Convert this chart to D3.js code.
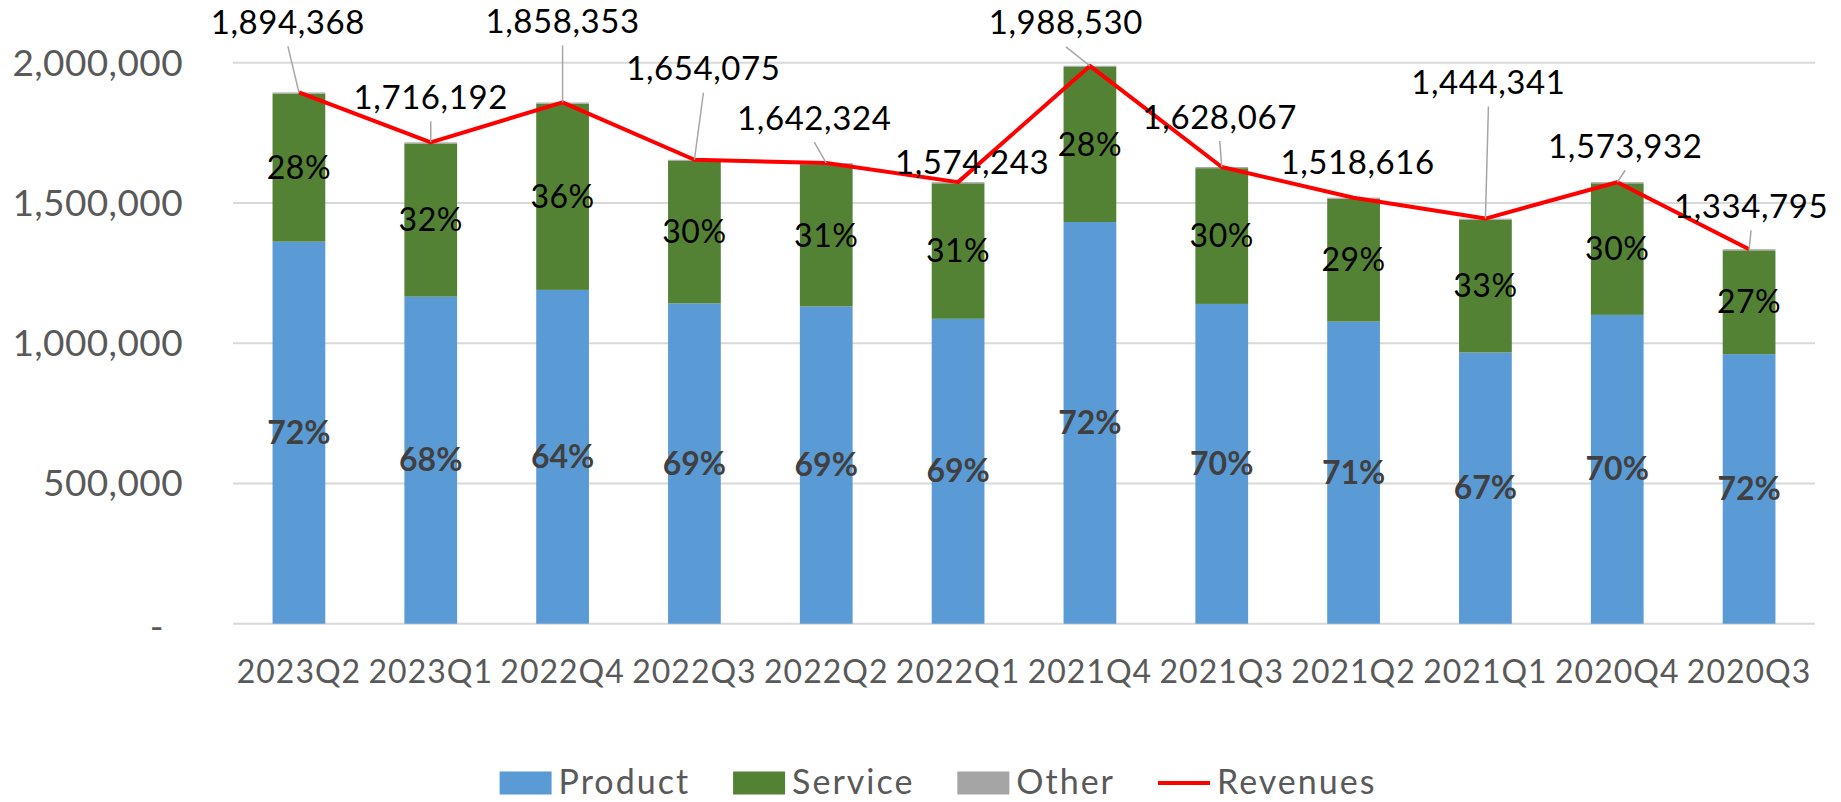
<!DOCTYPE html>
<html>
<head>
<meta charset="utf-8">
<script src="https://cdn.jsdelivr.net/npm/d3@7"></script>
<style>
  html, body { margin: 0; padding: 0; background: #fff; }
  svg { display: block; font-family: 'Lato', 'Open Sans', sans-serif; }
</style>
</head>
<body>
<svg id="chart" width="1841" height="802"></svg>
<script>
const quarters = ['2023Q2', '2023Q1', '2022Q4', '2022Q3', '2022Q2', '2022Q1',
  '2021Q4', '2021Q3', '2021Q2', '2021Q1', '2020Q4', '2020Q3'];
const revenues = [1894368, 1716192, 1858353, 1654075, 1642324, 1574243,
  1988530, 1628067, 1518616, 1444341, 1573932, 1334795];
const product = [1362000, 1166000, 1190000, 1142000, 1131000, 1087000,
  1432000, 1140000, 1077000, 967000, 1101000, 961000];
const service = [528000, 546000, 664000, 508000, 507000, 483000,
  553000, 484000, 438000, 473000, 469000, 370000];
const other = [4000, 4000, 4000, 4000, 4000, 4000, 4000, 4000, 4000, 4000, 4000, 4000];
const productPct = ['72%', '68%', '64%', '69%', '69%', '69%', '72%', '70%', '71%', '67%', '70%', '72%'];
const servicePct = ['28%', '32%', '36%', '30%', '31%', '31%', '28%', '30%', '29%', '33%', '30%', '27%'];
const yTicks = [0, 500000, 1000000, 1500000, 2000000];
// hand-placed callouts: label centre relative to the line point, and whether a leader is drawn
const calloutOffsets = [[-11, -70], [0, -45], [0, -81], [9, -91], [-12, -45], [14, -20],
  [-24, -43], [-2, -50], [4, -35], [3, -136], [8, -36], [2, -43]];
const showLeader = [true, true, true, true, true, false, true, true, false, true, true, true];

const COLORS = { product: '#5b9bd5', service: '#548235', other: '#a5a5a5', line: '#ff0000' };

const svg = d3.select('#chart');
const x = d3.scaleBand().domain(quarters).range([233, 1815]).paddingInner(0.6).paddingOuter(0.3);
const y = d3.scaleLinear().domain([0, 2000000]).range([623.7, 62.7]);
const cx = d => x(d) + x.bandwidth() / 2;

// gridlines
svg.append('g').selectAll('line').data(yTicks).enter().append('line')
  .attr('x1', 233).attr('x2', 1815)
  .attr('y1', d => y(d)).attr('y2', d => y(d))
  .attr('stroke', '#d9d9d9').attr('stroke-width', 2);

// y labels
svg.append('g').selectAll('text').data(yTicks).enter().append('text')
  .attr('x', d => d === 0 ? 164 : 183)
  .attr('y', d => y(d) + (d === 0 ? 3 : 0))
  .attr('dy', '0.35em')
  .attr('text-anchor', 'end')
  .attr('fill', '#595959').style('font-size', '37px').style('letter-spacing', '0.4px')
  .text(d => d === 0 ? '-' : d3.format(',')(d));

// stacked bars
const rows = quarters.map((q, i) => ({ q, i, product: product[i], service: service[i], other: other[i] }));
const stack = d3.stack().keys(['product', 'service', 'other'])(rows);
svg.append('g').selectAll('g').data(stack).enter().append('g')
  .attr('fill', s => COLORS[s.key])
  .selectAll('rect').data(s => s).enter().append('rect')
  .attr('x', d => x(d.data.q))
  .attr('width', x.bandwidth())
  .attr('y', d => y(d[1]))
  .attr('height', d => y(d[0]) - y(d[1]));

// segment percentage labels
const prodLayer = stack[0], servLayer = stack[1];
svg.append('g').selectAll('text').data(prodLayer).enter().append('text')
  .attr('x', d => cx(d.data.q))
  .attr('y', d => y((d[0] + d[1]) / 2))
  .attr('dy', '0.35em').attr('text-anchor', 'middle')
  .attr('fill', '#404040').style('font-size', '32px').style('font-weight', 700)
  .text((d, i) => productPct[i]);
svg.append('g').selectAll('text').data(servLayer).enter().append('text')
  .attr('x', d => cx(d.data.q))
  .attr('y', d => y((d[0] + d[1]) / 2))
  .attr('dy', '0.35em').attr('text-anchor', 'middle')
  .attr('fill', '#000').style('font-size', '32px').style('letter-spacing', '0.5px')
  .text((d, i) => servicePct[i]);

// revenue line
const line = d3.line().x((d, i) => cx(quarters[i])).y(d => y(d));
svg.append('path').datum(revenues)
  .attr('d', line).attr('fill', 'none')
  .attr('stroke', COLORS.line).attr('stroke-width', 4).attr('stroke-linejoin', 'round');

// callouts with leader lines
const callouts = revenues.map((v, i) => {
  const px = cx(quarters[i]), py = y(v);
  return { v, i, px, py, lx: px + calloutOffsets[i][0], ly: py + calloutOffsets[i][1] };
});
svg.append('g').selectAll('line').data(callouts.filter(c => showLeader[c.i])).enter().append('line')
  .attr('x1', c => c.lx).attr('y1', c => c.ly + 24)
  .attr('x2', c => c.px).attr('y2', c => c.py)
  .attr('stroke', '#a6a6a6').attr('stroke-width', 1.5);
svg.append('g').selectAll('text').data(callouts).enter().append('text')
  .attr('x', c => c.lx).attr('y', c => c.ly)
  .attr('dy', '0.35em').attr('text-anchor', 'middle')
  .attr('fill', '#000').style('font-size', '33px').style('letter-spacing', '0.6px')
  .text(c => d3.format(',')(c.v));

// x labels
svg.append('g').selectAll('text').data(quarters).enter().append('text')
  .attr('x', d => cx(d)).attr('y', 683)
  .attr('text-anchor', 'middle')
  .attr('fill', '#595959').style('font-size', '32px').style('letter-spacing', '1px')
  .text(d => d);

// legend
const legendItems = [
  { label: 'Product', type: 'rect', color: COLORS.product },
  { label: 'Service', type: 'rect', color: COLORS.service },
  { label: 'Other', type: 'rect', color: COLORS.other },
  { label: 'Revenues', type: 'line', color: COLORS.line },
];
const lg = svg.append('g');
let lx = 0;
legendItems.forEach(it => {
  const g = lg.append('g').attr('transform', `translate(${lx},0)`);
  if (it.type === 'rect') {
    g.append('rect').attr('x', 0).attr('y', -11.5).attr('width', 52).attr('height', 23).attr('fill', it.color);
  } else {
    g.append('line').attr('x1', 0).attr('x2', 52).attr('y1', 0).attr('y2', 0)
      .attr('stroke', it.color).attr('stroke-width', 4);
  }
  const t = g.append('text').attr('x', 59).attr('y', 11)
    .attr('fill', '#595959').style('font-size', '34px').style('letter-spacing', '2px').text(it.label);
  lx += 59 + t.node().getComputedTextLength() + 43;
});
const lgW = lx - 43;
lg.attr('transform', `translate(${938 - lgW / 2},783)`);
</script>
</body>
</html>
